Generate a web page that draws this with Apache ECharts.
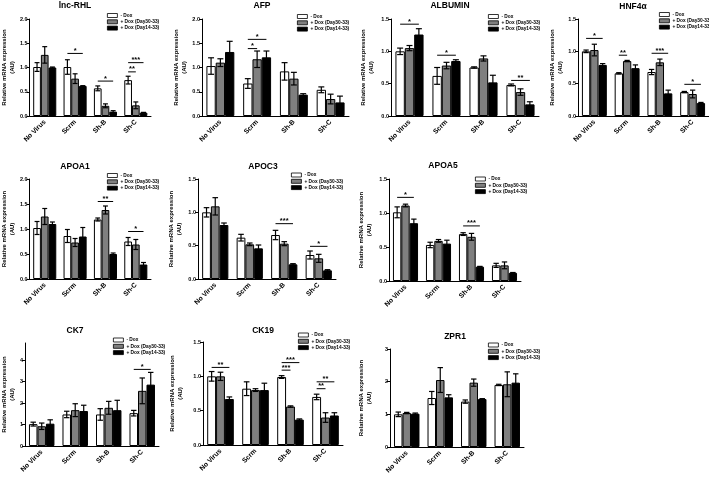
<!DOCTYPE html>
<html>
<head>
<meta charset="utf-8">
<script src="https://cdn.jsdelivr.net/npm/echarts@6/dist/echarts.min.js"></script>
<style>html,body{margin:0;padding:0;background:#fff;}#c{width:709px;height:478px;}</style>
</head>
<body>
<div id="c"></div>
<script>
// ---------- data ----------
const categories = ['No Virus', 'Scrm', 'Sh-B', 'Sh-C'];
const seriesNames = ['- Dox', '+ Dox (Day30-33)', '+ Dox (Day14-33)'];
const titles = ['lnc-RHL', 'AFP', 'ALBUMIN', 'HNF4\u03b1', 'APOA1', 'APOC3', 'APOA5', 'CK7', 'CK19', 'ZPR1'];
const yMax = [2, 2, 1.5, 1.5, 2, 1.5, 1.5, 4.8, 1.5, 3];
const yInterval = [0.5, 0.5, 0.5, 0.5, 0.5, 0.5, 0.5, 1, 0.5, 1];

// means: [ -Dox, +Dox(Day30-33), +Dox(Day14-33) ] per category
const lncRHL_mean = [[1.01, 1.01, 0.57, 0.74], [1.26, 0.77, 0.21, 0.22], [1.0, 0.62, 0.09, 0.07]];
const lncRHL_sem  = [[0.09, 0.15, 0.05, 0.08], [0.17, 0.10, 0.04, 0.07], [0.01, 0.005, 0.02, 0.005]];
const lncRHL_sig  = [[1, 0, 2, 1.29, '*'], [2, 0, 2, 0.72, '*'], [3, 0, 1, 0.91, '**'], [3, 0, 2, 1.10, '***']];

const AFP_mean = [[1.03, 0.67, 0.92, 0.54], [1.10, 1.17, 0.77, 0.35], [1.32, 1.21, 0.44, 0.28]];
const AFP_sem  = [[0.17, 0.10, 0.18, 0.06], [0.08, 0.17, 0.13, 0.10], [0.22, 0.13, 0.02, 0.13]];
const AFP_sig  = [[1, 0, 1, 1.39, '*'], [1, 0, 2, 1.58, '*']];

const ALB_mean = [[1.0, 0.62, 0.75, 0.48], [1.05, 0.78, 0.89, 0.37], [1.26, 0.85, 0.52, 0.18]];
const ALB_sem  = [[0.05, 0.13, 0.01, 0.015], [0.04, 0.05, 0.04, 0.05], [0.09, 0.02, 0.11, 0.04]];
const ALB_sig  = [[0, 0, 2, 1.42, '*'], [1, 0, 2, 0.94, '*'], [3, 0, 2, 0.55, '**']];

const HNF_mean = [[1.0, 0.66, 0.68, 0.37], [1.02, 0.85, 0.83, 0.34], [0.79, 0.74, 0.35, 0.20]];
const HNF_sem  = [[0.02, 0.01, 0.04, 0.01], [0.09, 0.01, 0.05, 0.06], [0.02, 0.05, 0.05, 0.01]];
const HNF_sig  = [[0, 0, 2, 1.2, '*'], [1, 0, 1, 0.94, '**'], [2, 0, 2, 0.97, '***'], [3, 0, 2, 0.49, '*']];

const APOA1_mean = [[1.02, 0.86, 1.19, 0.75], [1.25, 0.73, 1.38, 0.69], [1.10, 0.85, 0.50, 0.29]];
const APOA1_sem  = [[0.13, 0.13, 0.03, 0.08], [0.16, 0.08, 0.08, 0.10], [0.04, 0.18, 0.02, 0.04]];
const APOA1_sig  = [[2, 0, 2, 1.55, '**'], [3, 0, 2, 0.95, '*']];

const APOC3_mean = [[1.0, 0.62, 0.66, 0.36], [1.09, 0.52, 0.53, 0.31], [0.81, 0.46, 0.22, 0.13]];
const APOC3_sem  = [[0.07, 0.05, 0.07, 0.06], [0.13, 0.02, 0.03, 0.06], [0.03, 0.05, 0.01, 0.01]];
const APOC3_sig  = [[2, 0, 2, 0.83, '***'], [3, 0, 2, 0.49, '*']];

const APOA5_mean = [[1.01, 0.53, 0.69, 0.23], [1.11, 0.59, 0.65, 0.23], [0.85, 0.55, 0.21, 0.12]];
const APOA5_sem  = [[0.08, 0.04, 0.02, 0.03], [0.02, 0.02, 0.05, 0.05], [0.06, 0.05, 0.005, 0.005]];
const APOA5_sig  = [[0, 0, 2, 1.23, '*'], [2, 0, 2, 0.81, '***']];

const CK7_mean = [[1.02, 1.47, 1.47, 1.53], [0.92, 1.67, 1.78, 2.57], [1.04, 1.63, 1.67, 2.86]];
const CK7_sem  = [[0.09, 0.15, 0.27, 0.13], [0.15, 0.30, 0.30, 0.60], [0.18, 0.27, 0.46, 0.57]];
const CK7_sig  = [[3, 0, 2, 3.57, '*']];

const CK19_mean = [[1.0, 0.82, 0.99, 0.70], [1.0, 0.80, 0.56, 0.40], [0.67, 0.80, 0.37, 0.43]];
const CK19_sem  = [[0.07, 0.10, 0.02, 0.04], [0.06, 0.02, 0.01, 0.07], [0.03, 0.10, 0.01, 0.04]];
const CK19_sig  = [[0, 0, 2, 1.13, '**'], [2, 0, 1, 1.09, '***'], [2, 0, 2, 1.20, '***'], [3, 0, 1, 0.82, '**'], [3, 0, 2, 0.92, '**']];

const ZPR1_mean = [[1.0, 1.50, 1.39, 1.90], [1.04, 2.05, 1.97, 1.92], [1.02, 1.52, 1.47, 1.97]];
const ZPR1_sem  = [[0.07, 0.20, 0.05, 0.02], [0.02, 0.38, 0.11, 0.38], [0.02, 0.08, 0.01, 0.27]];
const ZPR1_sig  = [];

const allMeans = [lncRHL_mean, AFP_mean, ALB_mean, HNF_mean, APOA1_mean, APOC3_mean, APOA5_mean, CK7_mean, CK19_mean, ZPR1_mean];
const allSems  = [lncRHL_sem, AFP_sem, ALB_sem, HNF_sem, APOA1_sem, APOC3_sem, APOA5_sem, CK7_sem, CK19_sem, ZPR1_sem];
const allSigs  = [lncRHL_sig, AFP_sig, ALB_sig, HNF_sig, APOA1_sig, APOC3_sig, APOA5_sig, CK7_sig, CK19_sig, ZPR1_sig];

// ---------- layout / style ----------
const grids = [
  [27, 19, 124, 97], [202, 19, 147, 97], [391, 19, 148, 97], [578, 19, 131, 97],
  [27, 179, 124, 100], [198, 179, 138, 100], [389, 179, 132, 102],
  [23, 343, 136, 103], [203, 342, 140, 103], [390, 349, 134, 98]
];
const titlePos = [[75, 1], [262, 1], [450, 1], [633, 2], [75, 162], [263, 162], [443, 161], [75, 326], [263, 326], [455, 332]];
const legendPos = [[107, 13], [297, 14], [488, 14], [659, 12], [107, 173], [291, 172.5], [475, 176.5], [113, 337.5], [298, 332.5], [488, 342.5]];
const nameGaps = [11, 14, 16, 14, 11, 15, 16, 8, 19, 17];
const colors = ['#ffffff', '#7f7f7f', '#000000'];
const FONT = '"Liberation Sans Narrow", "Liberation Sans", Arial, sans-serif';
const GAP = 0.24;

function barCenter(api, cat, idx) {
  const band = api.size([1, 0])[0];
  const bw = band * (1 - GAP) / 3;
  return { x: api.coord([cat, 0])[0] + (idx - 1) * bw, bw: bw };
}

const option = {
  animation: false,
  backgroundColor: '#fff',
  title: [], legend: [], grid: [], xAxis: [], yAxis: [], series: []
};

for (let p = 0; p < 10; p++) {
  const g = grids[p];
  option.grid.push({ left: g[0], top: g[1], width: g[2], height: g[3], containLabel: false });
  option.title.push({
    text: titles[p], left: titlePos[p][0], top: titlePos[p][1], textAlign: 'center', padding: 0,
    textStyle: { fontSize: 8.5, fontWeight: 'bold', color: '#000', fontFamily: FONT }
  });
  option.legend.push({
    data: seriesNames, left: legendPos[p][0], top: legendPos[p][1], orient: 'vertical',
    itemWidth: 10, itemHeight: 4, itemGap: 1.3, padding: 0, selectedMode: false, icon: 'rect',
    itemStyle: { borderColor: '#000', borderWidth: 0.8 },
    textStyle: { fontSize: 4.8, color: '#000', fontFamily: FONT, fontWeight: 'bold', padding: [0, 0, 0, -2] }
  });
  option.xAxis.push({
    type: 'category', gridIndex: p, data: categories,
    axisLine: { lineStyle: { color: '#000', width: 1 } },
    axisTick: { alignWithLabel: true, length: 3, lineStyle: { color: '#000' } },
    axisLabel: { rotate: 45, fontSize: 6.8, fontWeight: 'bold', color: '#000', margin: 5, fontFamily: FONT, interval: 0 }
  });
  const dec = yInterval[p] < 1 ? 1 : 0;
  option.yAxis.push({
    type: 'value', gridIndex: p, min: 0, max: yMax[p], interval: yInterval[p],
    axisLine: { show: true, lineStyle: { color: '#000', width: 1 } },
    axisTick: { show: true, length: 3, lineStyle: { color: '#000' } },
    splitLine: { show: false },
    axisLabel: {
      fontSize: 5.5, fontWeight: 'bold', color: '#000', margin: 2, fontFamily: FONT, showMaxLabel: yMax[p] % yInterval[p] === 0,
      formatter: function (v) { return v.toFixed(dec); }
    },
    name: 'Relative mRNA expression\n(AU)', nameLocation: 'middle', nameRotate: 90, nameGap: nameGaps[p],
    nameTextStyle: { fontSize: 6, fontWeight: 'bold', color: '#000', fontFamily: FONT, lineHeight: 7.5 }
  });
  const means = allMeans[p], sems = allSems[p], sigs = allSigs[p];
  for (let k = 0; k < 3; k++) {
    option.series.push({
      type: 'bar', name: seriesNames[k], xAxisIndex: p, yAxisIndex: p, data: means[k],
      barGap: '0%', barCategoryGap: (GAP * 100) + '%', silent: true,
      itemStyle: { color: colors[k], borderColor: '#000', borderWidth: 1 }
    });
  }
  const errData = [];
  for (let k = 0; k < 3; k++) {
    for (let c = 0; c < 4; c++) {
      errData.push([c, k, means[k][c] - sems[k][c], means[k][c] + sems[k][c]]);
    }
  }
  option.series.push({
    type: 'custom', xAxisIndex: p, yAxisIndex: p, z: 5, silent: true,
    encode: { x: 0, y: [2, 3] }, data: errData,
    renderItem: function (params, api) {
      const cat = api.value(0), bi = api.value(1);
      const bc = barCenter(api, cat, bi);
      const y1 = api.coord([cat, api.value(2)])[1];
      const y2 = api.coord([cat, api.value(3)])[1];
      const cap = bc.bw * 0.32;
      const st = { stroke: '#000', lineWidth: 1.2 };
      return {
        type: 'group', children: [
          { type: 'line', shape: { x1: bc.x, y1: y1, x2: bc.x, y2: y2 }, style: st },
          { type: 'line', shape: { x1: bc.x - cap, y1: y2, x2: bc.x + cap, y2: y2 }, style: st },
          { type: 'line', shape: { x1: bc.x - cap, y1: y1, x2: bc.x + cap, y2: y1 }, style: st }
        ]
      };
    }
  });
  if (sigs.length) {
    option.series.push({
      type: 'custom', xAxisIndex: p, yAxisIndex: p, z: 6, silent: true,
      encode: { x: 0, y: 3 }, data: sigs.map(function (s) { return [s[0], s[1], s[2], s[3]]; }),
      renderItem: (function (sigArr) {
        return function (params, api) {
          const s = sigArr[params.dataIndex];
          const a = barCenter(api, s[0], s[1]);
          const b = barCenter(api, s[0], s[2]);
          const y = api.coord([s[0], s[3]])[1];
          return {
            type: 'group', children: [
              { type: 'line', shape: { x1: a.x, y1: y, x2: b.x, y2: y }, style: { stroke: '#000', lineWidth: 1 } },
              { type: 'text', style: { text: s[4], x: (a.x + b.x) / 2, y: y + 1.5, align: 'center', verticalAlign: 'bottom',
                fontSize: 7.5, fontWeight: 'bold', fontFamily: FONT, fill: '#000' } }
            ]
          };
        };
      })(sigs)
    });
  }
}

const chart = echarts.init(document.getElementById('c'), null, { renderer: 'canvas' });
chart.setOption(option);
</script>
</body>
</html>
